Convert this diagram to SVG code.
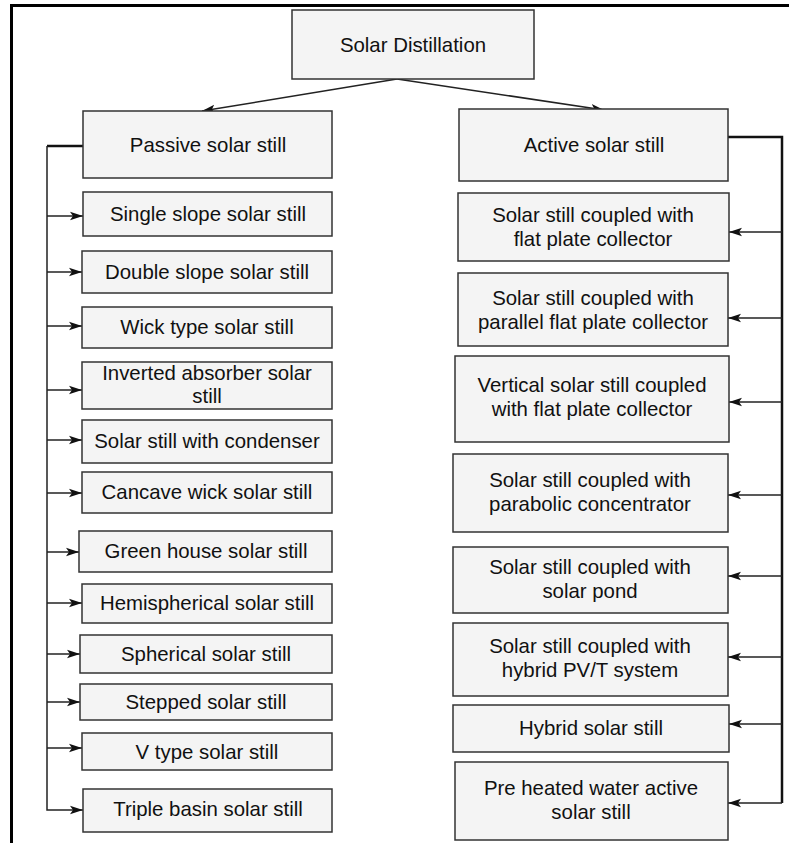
<svg xmlns="http://www.w3.org/2000/svg" width="789" height="843" viewBox="0 0 789 843">
<style>
.box{fill:#f4f4f4;stroke:#333;stroke-width:1.5}
.t{font-family:"Liberation Sans",Arial,sans-serif;font-size:20.4px;fill:#111;text-anchor:middle}
.c{fill:none;stroke:#222;stroke-width:1.5}
.ct{fill:none;stroke:#111;stroke-width:2.5}
</style>
<defs>
<marker id="ah" markerUnits="userSpaceOnUse" markerWidth="14" markerHeight="10" refX="13" refY="5" orient="auto">
<path d="M0,0.8 L13,5 L0,9.2 L3,5 Z" fill="#111"/>
</marker>
</defs>
<rect width="789" height="843" fill="#fff"/>
<g id="frame">
<line x1="10" y1="5.5" x2="789" y2="5.5" stroke="#000" stroke-width="3"/>
<line x1="11.5" y1="4" x2="11.5" y2="843" stroke="#000" stroke-width="3"/>
</g>
<g id="connectors">
<line class="c" x1="397" y1="79" x2="202" y2="111" marker-end="url(#ah)"/>
<line class="c" x1="397" y1="79" x2="604" y2="110" marker-end="url(#ah)"/>
<polyline class="ct" points="83,146 47,146"/>
<polyline class="c" points="47,146 47,810 83,810" marker-end="url(#ah)"/>
<line class="c" x1="47" y1="216" x2="83" y2="216" marker-end="url(#ah)"/>
<line class="c" x1="47" y1="272" x2="82" y2="272" marker-end="url(#ah)"/>
<line class="c" x1="47" y1="326" x2="82" y2="326" marker-end="url(#ah)"/>
<line class="c" x1="47" y1="390" x2="82" y2="390" marker-end="url(#ah)"/>
<line class="c" x1="47" y1="440" x2="82" y2="440" marker-end="url(#ah)"/>
<line class="c" x1="47" y1="493" x2="82" y2="493" marker-end="url(#ah)"/>
<line class="c" x1="47" y1="552" x2="79" y2="552" marker-end="url(#ah)"/>
<line class="c" x1="47" y1="603" x2="82" y2="603" marker-end="url(#ah)"/>
<line class="c" x1="47" y1="654" x2="80" y2="654" marker-end="url(#ah)"/>
<line class="c" x1="47" y1="702" x2="80" y2="702" marker-end="url(#ah)"/>
<line class="c" x1="47" y1="748" x2="82" y2="748" marker-end="url(#ah)"/>
<polyline class="ct" points="728,137 782,137 782,803"/>
<line class="c" x1="782" y1="232" x2="729" y2="232" marker-end="url(#ah)"/>
<line class="c" x1="782" y1="318" x2="728" y2="318" marker-end="url(#ah)"/>
<line class="c" x1="782" y1="402" x2="729" y2="402" marker-end="url(#ah)"/>
<line class="c" x1="782" y1="495" x2="728" y2="495" marker-end="url(#ah)"/>
<line class="c" x1="782" y1="576" x2="728" y2="576" marker-end="url(#ah)"/>
<line class="c" x1="782" y1="657" x2="728" y2="657" marker-end="url(#ah)"/>
<line class="c" x1="782" y1="724" x2="729" y2="724" marker-end="url(#ah)"/>
<line class="c" x1="782" y1="803" x2="728" y2="803" marker-end="url(#ah)"/>
</g>
<g id="root"><rect class="box" x="292" y="10" width="242" height="69"/><text class="t" x="413" y="52">Solar Distillation</text></g>
<g id="passive"><rect class="box" x="83" y="111" width="249" height="67"/><text class="t" x="208" y="152">Passive solar still</text></g>
<g id="active"><rect class="box" x="459" y="109" width="269" height="72"/><text class="t" x="594" y="152">Active solar still</text></g>
<g id="p1"><rect class="box" x="83" y="192" width="249" height="44"/><text class="t" x="208" y="221">Single slope solar still</text></g>
<g id="p2"><rect class="box" x="82" y="251" width="250" height="42"/><text class="t" x="207" y="279">Double slope solar still</text></g>
<g id="p3"><rect class="box" x="82" y="307" width="250" height="41"/><text class="t" x="207" y="334">Wick type solar still</text></g>
<g id="p4"><rect class="box" x="82" y="362" width="250" height="47"/><text class="t" x="207" y="380">Inverted absorber solar</text><text class="t" x="207" y="403">still</text></g>
<g id="p5"><rect class="box" x="82" y="420" width="250" height="43"/><text class="t" x="207" y="448">Solar still with condenser</text></g>
<g id="p6"><rect class="box" x="82" y="472" width="250" height="41"/><text class="t" x="207" y="499">Cancave wick solar still</text></g>
<g id="p7"><rect class="box" x="79" y="531" width="253" height="41"/><text class="t" x="206" y="558">Green house solar still</text></g>
<g id="p8"><rect class="box" x="82" y="584" width="250" height="39"/><text class="t" x="207" y="610">Hemispherical solar still</text></g>
<g id="p9"><rect class="box" x="80" y="635" width="252" height="38"/><text class="t" x="206" y="661">Spherical solar still</text></g>
<g id="p10"><rect class="box" x="80" y="684" width="252" height="36"/><text class="t" x="206" y="709">Stepped solar still</text></g>
<g id="p11"><rect class="box" x="82" y="733" width="250" height="37"/><text class="t" x="207" y="759">V type solar still</text></g>
<g id="p12"><rect class="box" x="83" y="789" width="249" height="43"/><text class="t" x="208" y="816">Triple basin solar still</text></g>
<g id="a1"><rect class="box" x="458" y="193" width="271" height="68"/><text class="t" x="593" y="222">Solar still coupled with</text><text class="t" x="593" y="246">flat plate collector</text></g>
<g id="a2"><rect class="box" x="458" y="273" width="270" height="73"/><text class="t" x="593" y="305">Solar still coupled with</text><text class="t" x="593" y="329">parallel flat plate collector</text></g>
<g id="a3"><rect class="box" x="455" y="356" width="274" height="86"/><text class="t" x="592" y="392">Vertical solar still coupled</text><text class="t" x="592" y="416">with flat plate collector</text></g>
<g id="a4"><rect class="box" x="453" y="454" width="275" height="78"/><text class="t" x="590" y="487">Solar still coupled with</text><text class="t" x="590" y="511">parabolic concentrator</text></g>
<g id="a5"><rect class="box" x="453" y="547" width="275" height="66"/><text class="t" x="590" y="574">Solar still coupled with</text><text class="t" x="590" y="598">solar pond</text></g>
<g id="a6"><rect class="box" x="453" y="623" width="275" height="73"/><text class="t" x="590" y="653">Solar still coupled with</text><text class="t" x="590" y="677">hybrid PV/T system</text></g>
<g id="a7"><rect class="box" x="453" y="705" width="276" height="47"/><text class="t" x="591" y="735">Hybrid solar still</text></g>
<g id="a8"><rect class="box" x="455" y="762" width="273" height="78"/><text class="t" x="591" y="795">Pre heated water active</text><text class="t" x="591" y="819">solar still</text></g>
</svg>
